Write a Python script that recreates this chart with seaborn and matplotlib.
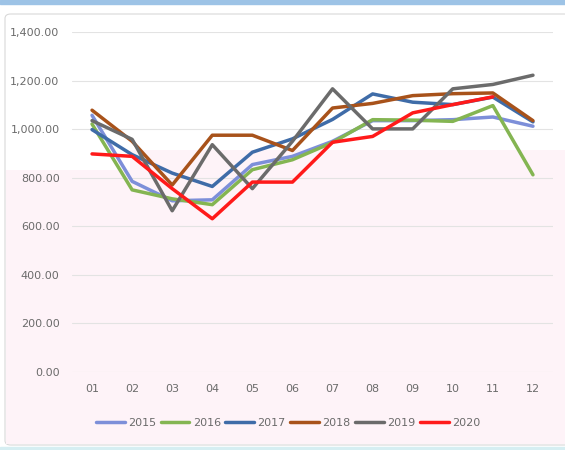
import numpy as np
import pandas as pd
import matplotlib
matplotlib.use('Agg')
import matplotlib.pyplot as plt
from matplotlib.patches import Rectangle, Polygon, FancyBboxPatch
import seaborn as sns

# monthly values
months = ['01', '02', '03', '04', '05', '06', '07', '08', '09', '10', '11', '12']
years = ['2015', '2016', '2017', '2018', '2019', '2020']
v2015 = [1057, 785, 705, 709, 854, 888, 950, 1035, 1035, 1039, 1050, 1012]
v2016 = [1021, 750, 713, 689, 833, 874, 945, 1039, 1037, 1032, 1097, 812]
v2017 = [998, 895, 819, 764, 905, 960, 1040, 1145, 1111, 1101, 1132, 1030]
v2018 = [1078, 950, 770, 975, 975, 912, 1087, 1106, 1138, 1146, 1149, 1035]
v2019 = [1035, 958, 664, 936, 755, 950, 1166, 1001, 1001, 1166, 1184, 1222]
v2020 = [898, 888, 755, 631, 782, 782, 946, 970, 1067, 1101, 1133, np.nan]
colors = ['#7d8fd9', '#84b552', '#3f6ca8', '#a8521a', '#6b6b6b', '#ff1a1a']

series = [v2015, v2016, v2017, v2018, v2019, v2020]
df = pd.DataFrame({
    'month': np.tile(np.arange(len(months)), len(years)),
    'value': np.concatenate(series),
    'year': np.repeat(years, len(months)),
})

sns.set_style('white')
plt.rcParams['font.family'] = ['DejaVu Sans']

W, H = 565, 450
fig = plt.figure(figsize=(W / 100, H / 100), dpi=100)

# chart frame and background bits (pixel coords -> figure fraction)
def fx(px):
    return px / W

def fy(py):
    return 1 - py / H

fig.patches.append(Rectangle((0, fy(4)), 1, 4 / H, transform=fig.transFigure,
                             color='#9dc3e6', zorder=-5))
fig.patches.append(Rectangle((0, 0), 1, 3 / H, transform=fig.transFigure,
                             color='#d6eef2', zorder=-5))
fig.patches.append(FancyBboxPatch((fx(5), fy(445)), fx(570) - fx(5), fy(14) - fy(445),
                                  boxstyle='round,pad=0,rounding_size=0.01',
                                  transform=fig.transFigure, facecolor='white',
                                  edgecolor='#d9d9d9', lw=0.8, zorder=-5))
pink = [(fx(6), fy(170)), (fx(130), fy(170)), (fx(130), fy(150)), (fx(565), fy(150)),
        (fx(565), fy(444)), (fx(6), fy(444))]
fig.patches.append(Polygon(pink, closed=True, transform=fig.transFigure,
                           facecolor='#fef3f8', edgecolor='none', zorder=-4))

ax = fig.add_axes([fx(72), fy(372), fx(553) - fx(72), fy(32) - fy(372)])
ax.patch.set_alpha(0)

sns.lineplot(data=df, x='month', y='value', hue='year', palette=colors,
             linewidth=2.5, ax=ax, legend=True)

ax.set_xlim(-0.5, len(months) - 0.5)
ax.set_ylim(0, 1400)
ax.set_yticks(np.arange(0, 1401, 200))
ax.set_yticklabels([f'{v:,.2f}' for v in np.arange(0, 1401, 200)])
ax.set_xticks(np.arange(len(months)))
ax.set_xticklabels(months)
ax.yaxis.grid(True, color='#e3e3e3', lw=0.8)
ax.set_axisbelow(True)
for s in ax.spines.values():
    s.set_visible(False)
ax.tick_params(axis='both', length=0, labelsize=8, labelcolor='#6b6b6b')
ax.tick_params(axis='y', pad=9)
ax.tick_params(axis='x', pad=9)
ax.set_xlabel('')
ax.set_ylabel('')

handles, labels = ax.get_legend_handles_labels()
ax.get_legend().remove()
fig.legend(handles, labels, loc='center', bbox_to_anchor=(0.51, fy(423)), ncol=6,
           frameon=False, fontsize=8, labelcolor='#6b6b6b', handlelength=2.6,
           handletextpad=0.3, columnspacing=0.4)

fig.savefig('out.png', dpi=100)
